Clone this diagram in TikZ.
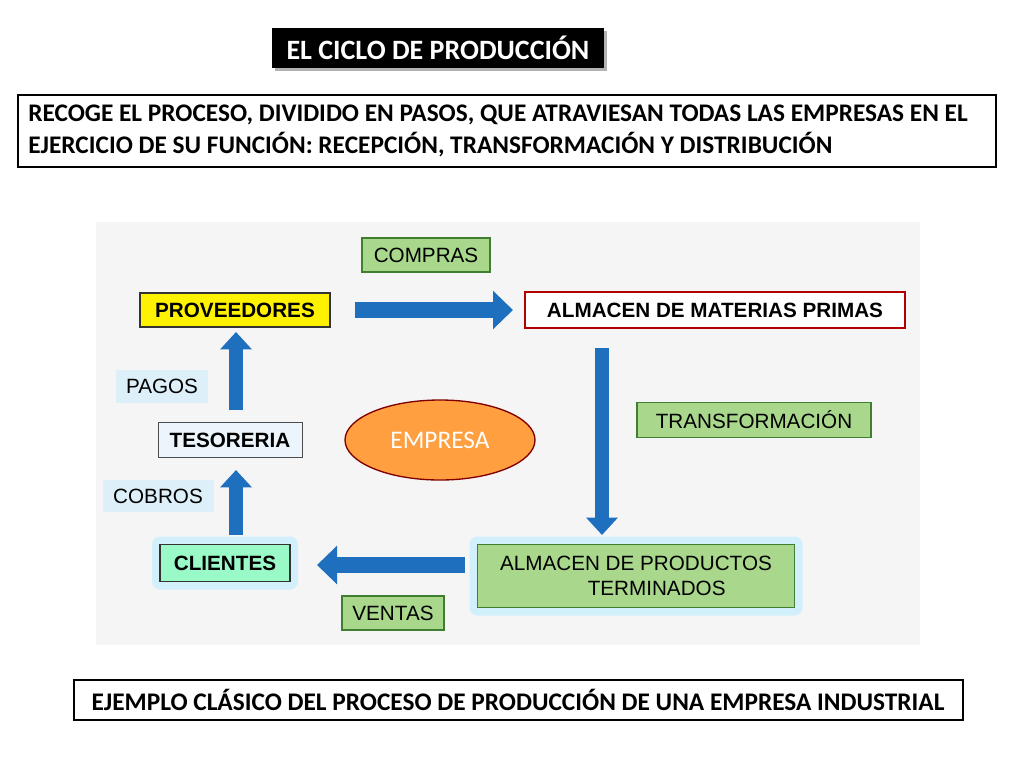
\documentclass[tikz,border=0pt]{standalone}
\usepackage{fontspec}
\setmainfont{Carlito}
\newfontfamily\arial{Liberation Sans}
\usetikzlibrary{arrows.meta,shapes.geometric}
\definecolor{grn}{HTML}{A9D88C}
\definecolor{grnb}{HTML}{3F7F2F}
\definecolor{arr}{HTML}{1F6FBF}
\definecolor{lblue}{HTML}{DDEFF8}
\begin{document}
\begin{tikzpicture}[x=0.75pt,y=-0.75pt,
  dfont/.style={font=\arial\fontsize{15.5}{19}\selectfont},
  dbfont/.style={font=\arial\bfseries\fontsize{15.5}{19}\selectfont},
  gbox/.style={draw=grnb, fill=grn, line width=0.8pt, dfont},
  bigarr/.style={line width=12pt, arr, -{Triangle[length=15pt,width=28pt]}},
  uparr/.style={line width=10pt, arr, -{Triangle[length=13pt,width=23pt]}}]
\useasboundingbox (0,0) rectangle (1024,768);
\fill[white] (0,0) rectangle (1024,768);
% title
\fill[gray!60] (275,31) rectangle (607,71);
\node[fill=black, text=white, font=\bfseries\fontsize{21}{24}\selectfont, minimum width=332*0.75pt, minimum height=40*0.75pt, inner sep=0pt] (title) at (438,48) {EL CICLO DE PRODUCCIÓN};
% description
\node[draw, line width=1.5pt, minimum width=978*0.75pt, minimum height=72*0.75pt, inner sep=0pt] (desc) at (507,131) {};
\node[anchor=west, align=left, font=\bfseries\fontsize{19}{24}\selectfont, inner sep=0pt] (desct) at (28,131) {RECOGE EL PROCESO, DIVIDIDO EN PASOS, QUE ATRAVIESAN TODAS LAS EMPRESAS EN EL\\EJERCICIO DE SU FUNCIÓN: RECEPCIÓN, TRANSFORMACIÓN Y DISTRIBUCIÓN};
% panel
\fill[blue!3!gray!8] (96,222) rectangle (920,645);
% boxes
\node[gbox, minimum width=128*0.75pt, minimum height=34*0.75pt] (compras) at (426,255) {COMPRAS};
\node[draw=black!80, line width=1pt, fill=yellow, minimum width=190*0.75pt, minimum height=34*0.75pt, dbfont] (prov) at (235,310) {PROVEEDORES};
\node[draw=red!70!black, line width=1pt, fill=white, minimum width=380*0.75pt, minimum height=36*0.75pt, dbfont] (amp) at (715,310) {ALMACEN DE MATERIAS PRIMAS};
\node[gbox, minimum width=234*0.75pt, minimum height=35*0.75pt] (transf) at (754,420) {TRANSFORMACIÓN};
\node[ellipse, draw=red!50!black, line width=1pt, fill=orange!75!white, minimum width=190*0.75pt, minimum height=80*0.75pt, text=white, font=\fontsize{19}{22}\selectfont] (emp) at (440,440) {EMPRESA};
\node[fill=cyan!18, rounded corners=6pt, minimum width=333*0.75pt, minimum height=79*0.75pt] (glow1) at (636,576) {};
\node[gbox, minimum width=317*0.75pt, minimum height=63*0.75pt, align=center] (apt) at (636,576) {ALMACEN DE PRODUCTOS\\\hspace*{2em}TERMINADOS};
\node[fill=cyan!18, rounded corners=6pt, minimum width=146*0.75pt, minimum height=53*0.75pt] (glow2) at (225,563) {};
\node[draw=black!80, line width=0.8pt, fill=teal!20!cyan!50!green!40, minimum width=130*0.75pt, minimum height=37*0.75pt, dbfont] (cli) at (225,563) {CLIENTES};
\node[gbox, minimum width=102*0.75pt, minimum height=34*0.75pt] (ventas) at (393,613) {VENTAS};
\node[fill=lblue, minimum width=111*0.75pt, minimum height=32*0.75pt, dfont] (cobros) at (158,496) {COBROS};
\node[draw=black!70, line width=0.6pt, fill=lblue!60!white, minimum width=144*0.75pt, minimum height=35*0.75pt, dbfont] (tes) at (230,440) {TESORERIA};
\node[fill=lblue, minimum width=92*0.75pt, minimum height=33*0.75pt, dfont] (pagos) at (162,386) {PAGOS};
% arrow end points
\coordinate (a1s) at (355,310); \coordinate (a1e) at (513,310);
\coordinate (a2s) at (602,348); \coordinate (a2e) at (602,535);
\coordinate (a3s) at (465,565); \coordinate (a3e) at (317,565);
\coordinate (a4s) at (236,535); \coordinate (a4e) at (236,470);
\coordinate (a5s) at (236,410); \coordinate (a5e) at (236,332);
\draw[bigarr] (a1s) -- (a1e);
\draw[uparr] (a2s) -- (a2e);
\draw[bigarr] (a3s) -- (a3e);
\draw[uparr] (a4s) -- (a4e);
\draw[uparr] (a5s) -- (a5e);
% bottom
\node[draw, line width=1.5pt, minimum width=889*0.75pt, minimum height=40*0.75pt, font=\bfseries\fontsize{19}{22}\selectfont] (bot) at (518,700) {EJEMPLO CLÁSICO DEL PROCESO DE PRODUCCIÓN DE UNA EMPRESA INDUSTRIAL};
\end{tikzpicture}
\end{document}
